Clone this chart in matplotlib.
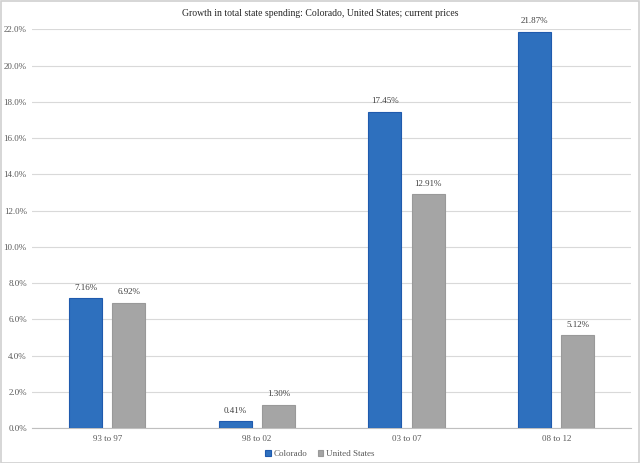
import matplotlib
matplotlib.use("Agg")
import matplotlib.pyplot as plt
import numpy as np
from matplotlib.ticker import FuncFormatter
from matplotlib.patches import Rectangle

categories = ["93 to 97", "98 to 02", "03 to 07", "08 to 12"]
colorado = [7.16, 0.41, 17.45, 21.87]
united_states = [6.92, 1.30, 12.91, 5.12]
title = "Growth in total state spending: Colorado, United States; current prices"

plt.rcParams['font.family'] = ['Liberation Serif', 'DejaVu Serif']

fig = plt.figure(figsize=(6.4, 4.63), dpi=100)
ax = fig.add_axes([0.0505, 0.0749, 0.9355, 0.8618])

x = np.arange(len(categories))
w = 0.22
off = 0.145
b1 = ax.bar(x - off, colorado, w, color="#2E70BE", edgecolor="#1F5AAD", linewidth=0.8, label="Colorado", zorder=3)
b2 = ax.bar(x + off, united_states, w, color="#A5A5A5", edgecolor="#999999", linewidth=0.8, label="United States", zorder=3)

for bars, vals in ((b1, colorado), (b2, united_states)):
    for r, v in zip(bars, vals):
        ax.text(r.get_x() + r.get_width() / 2, v + 0.35, f"{v:.2f}%", ha="center", va="bottom",
                fontsize=6.5, color="#404040")

ax.set_xlim(-0.5, len(categories) - 0.5)
ax.set_ylim(0, 22)
ax.set_yticks(np.arange(0, 22.1, 2))
ax.yaxis.set_major_formatter(FuncFormatter(lambda v, p: f"{v:.1f}%"))
ax.set_xticks(x)
ax.set_xticklabels(categories)
ax.tick_params(axis="both", length=0, labelsize=6.5, labelcolor="#595959")
ax.tick_params(axis="y", pad=4)
ax.tick_params(axis="x", pad=5)
ax.grid(axis="y", color="#d9d9d9", linewidth=0.8, zorder=0)
for s in ("top", "right", "left"):
    ax.spines[s].set_visible(False)
ax.spines["bottom"].set_color("#bfbfbf")
ax.spines["bottom"].set_linewidth(0.8)

fig.text(0.5, 0.971, title, ha="center", va="center", fontsize=7, color="#262626")

leg = fig.legend(handles=[b1, b2], loc="center", bbox_to_anchor=(0.5, 0.019), ncol=2, frameon=False,
                 fontsize=6.5, handlelength=0.6, handleheight=0.6, handletextpad=0.3, columnspacing=1.2)
for t in leg.get_texts():
    t.set_color("#595959")

fig.patches.append(Rectangle((0.001, 0.001), 0.998, 0.997, transform=fig.transFigure, fill=False,
                             edgecolor="#d0d0d0", linewidth=1.2))

fig.savefig("out.png", dpi=100)
